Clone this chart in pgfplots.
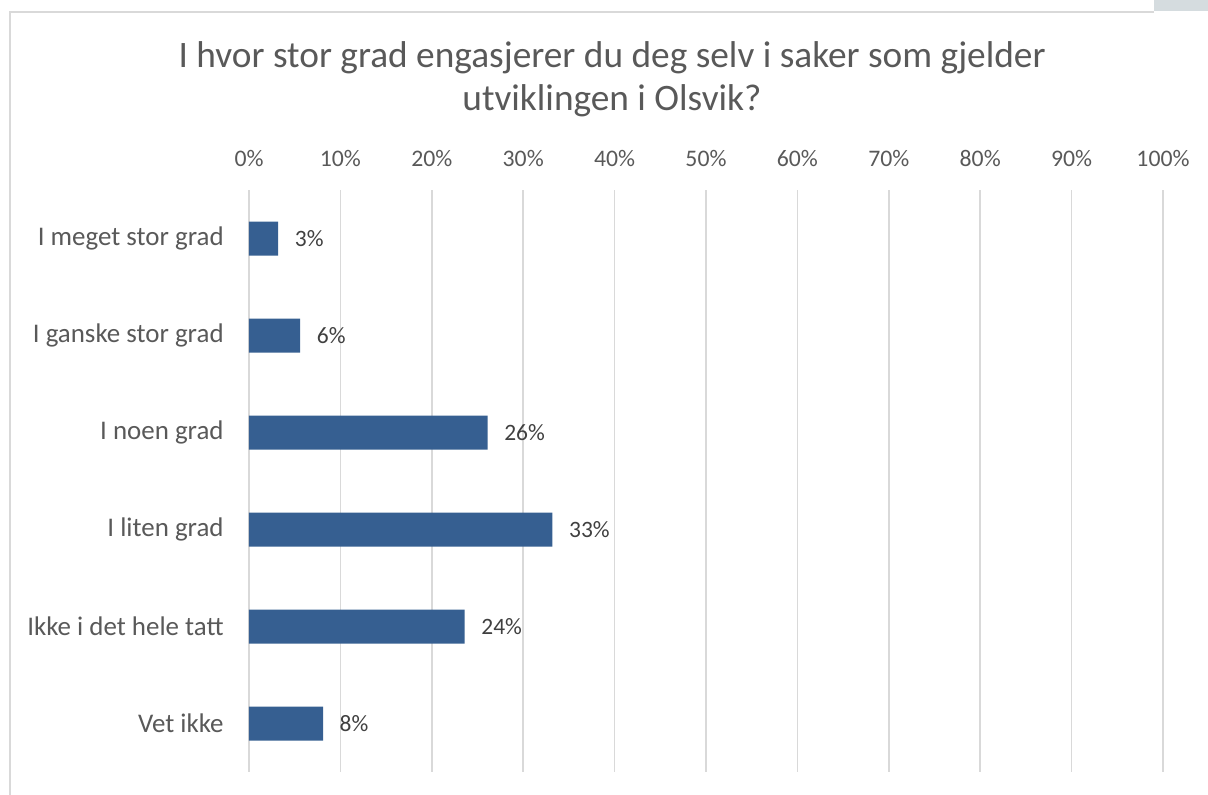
\documentclass[border=0pt]{standalone}
\usepackage{pgfplots}
\pgfplotsset{compat=1.18}
\usepackage{fontspec}
\setmainfont{Carlito}
\definecolor{barblue}{HTML}{365F91}
\definecolor{txtgrey}{HTML}{595959}
\definecolor{lblgrey}{HTML}{404040}
\definecolor{gridgrey}{HTML}{D9D9D9}
\begin{document}
\begin{tikzpicture}
\useasboundingbox (0pt,0pt) rectangle (906pt,-595.5pt);
% chart frame (partially visible)
\draw[gridgrey, line width=1.2pt] (7.5pt,-600pt) -- (7.5pt,-9pt) -- (865.5pt,-9pt);
\fill[color={rgb,255:red,213;green,220;blue,223}] (865.5pt,0pt) rectangle (906pt,-8.25pt);
% title
\node[text=txtgrey, font=\fontsize{28pt}{32pt}\selectfont, align=center, anchor=center] at (459pt,-59.5pt)
  {I hvor stor grad engasjerer du deg selv i saker som gjelder\\utviklingen i Olsvik?};
\begin{axis}[
  at={(186.75pt,-579pt)}, anchor=south west,
  scale only axis, width=685.5pt, height=436.5pt,
  xbar, bar width=25.5pt,
  xmin=0, xmax=100, ymin=0.5, ymax=6.5,
  y dir=reverse,
  axis line style={draw=none},
  xtick={0,10,...,100},
  xticklabel pos=upper,
  xticklabel={\pgfmathprintnumber{\tick}\%},
  xticklabel style={text=txtgrey, font=\fontsize{17.8pt}{21pt}\selectfont, yshift=14pt},
  /pgf/number format/assume math mode=true,
  xmajorgrids, major grid style={gridgrey, line width=1.2pt},
  major tick length=0pt,
  ytick={1,2,3,4,5,6},
  yticklabels={I meget stor grad, I ganske stor grad, I noen grad, I liten grad, Ikke i det hele tatt, Vet ikke},
  yticklabel style={text=txtgrey, font=\fontsize{20.2pt}{24pt}\selectfont, xshift=-15.5pt},
  nodes near coords={\pgfmathprintnumber[fixed, precision=0]{\pgfplotspointmeta}\%},
  nodes near coords style={text=lblgrey, font=\fontsize{17.6pt}{21pt}\selectfont, anchor=west, xshift=9pt},
  clip=false,
]
\addplot[fill=barblue, draw=none] coordinates {
  (3.2,1) (5.6,2) (26.1,3) (33.2,4) (23.6,5) (8.1,6)
};
\end{axis}
\end{tikzpicture}
\end{document}
